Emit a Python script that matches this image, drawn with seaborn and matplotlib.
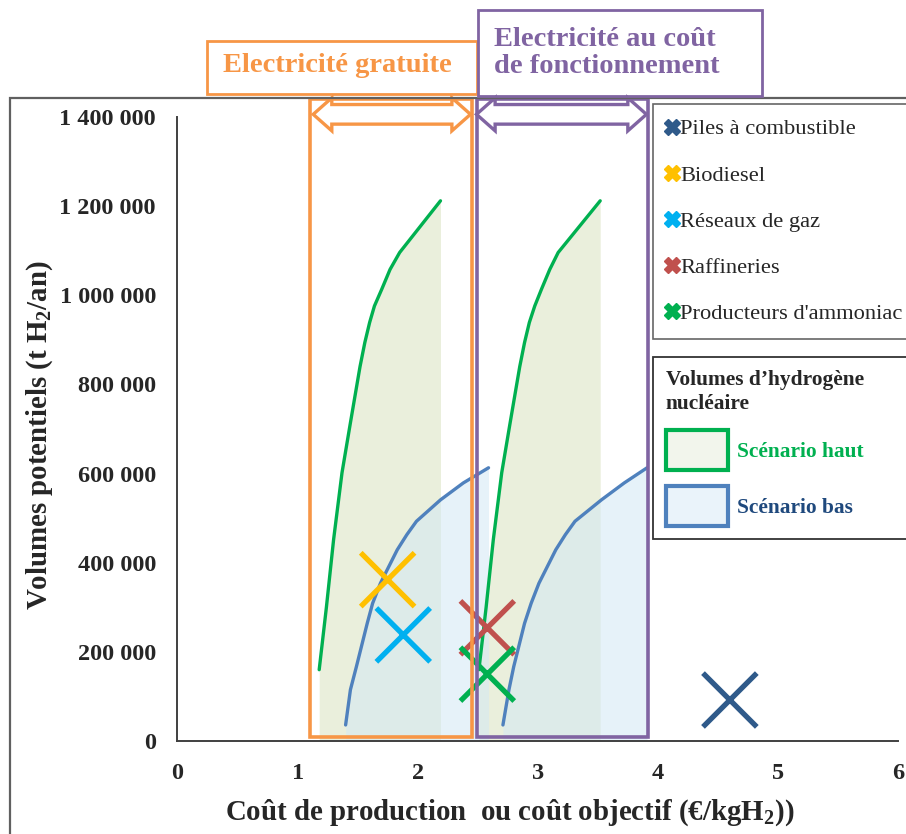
import numpy as np
import pandas as pd
import matplotlib
matplotlib.use("Agg")
import matplotlib.pyplot as plt
import matplotlib.patches as mpatches
from matplotlib.lines import Line2D
import seaborn as sns

# courbes hydrogene nucleaire (cout en EUR/kgH2, volume en t H2/an)
cout_haut_1 = [1.18, 1.24, 1.30, 1.37, 1.44, 1.52, 1.56, 1.60, 1.64, 1.70, 1.77, 1.85, 2.19]
vol_haut_1 = [160000, 300000, 452000, 602000, 714000, 840000, 894000, 939000, 976000,
              1013000, 1058000, 1096000, 1212000]
cout_haut_2 = [2.51, 2.57, 2.63, 2.70, 2.77, 2.85, 2.89, 2.93, 2.975, 3.03, 3.10, 3.17, 3.52]
vol_haut_2 = [160000, 300000, 452000, 602000, 714000, 840000, 894000, 939000, 976000,
              1013000, 1058000, 1096000, 1212000]

cout_bas_1 = [1.40, 1.44, 1.49, 1.58, 1.625, 1.69, 1.83, 1.91, 1.99, 2.19, 2.38, 2.59]
vol_bas_1 = [36000, 115000, 167000, 264000, 309000, 354000, 429000, 463000, 493000,
             541000, 579000, 613000]
cout_bas_2 = [2.71, 2.76, 2.80, 2.89, 2.945, 3.01, 3.15, 3.23, 3.31, 3.53, 3.72, 3.91]
vol_bas_2 = [36000, 115000, 167000, 264000, 309000, 354000, 429000, 463000, 493000,
             541000, 579000, 613000]

# usages (croix)
usages = ["Piles à combustible", "Biodiesel", "Réseaux de gaz", "Raffineries", "Producteurs d'ammoniac"]
cout_usage = [4.60, 1.75, 1.88, 2.58, 2.58]
vol_usage = [92000, 362000, 238000, 254000, 150000]
couleurs_usage = ["#2F5A8A", "#FFC000", "#00B0F0", "#C0504D", "#00B050"]

yticks = [0, 200000, 400000, 600000, 800000, 1000000, 1200000, 1400000]
xticks = [0, 1, 2, 3, 4, 5, 6]

vert = "#00B050"
bleu = "#4F81BD"
orange = "#F79646"
violet = "#8064A2"

sns.set_theme(style="white")
plt.rcParams['font.family'] = ['Liberation Serif', 'DejaVu Serif']
plt.rcParams['mathtext.fontset'] = 'custom'
plt.rcParams['mathtext.rm'] = 'Liberation Serif'
plt.rcParams['mathtext.bf'] = 'Liberation Serif:bold'

fig = plt.figure(figsize=(9.06, 8.34), dpi=100)
ax = fig.add_axes([0.1959, 0.1115, 0.7953, 0.7482])

# cadre exterieur du graphique
fig.patches.append(mpatches.Rectangle((10 / 906, -0.1), 1.2, 0.1 + (834 - 98) / 834,
                                      transform=fig.transFigure, fill=False,
                                      ec="#606060", lw=1.6))

# zones remplies
for cx, vy in [(cout_haut_1, vol_haut_1), (cout_haut_2, vol_haut_2)]:
    ax.fill_between(cx, vy, 0, color="#EAEFDC", lw=0, zorder=1)
for cx, vy in [(cout_bas_1, vol_bas_1), (cout_bas_2, vol_bas_2)]:
    ax.fill_between(cx, vy, 0, color="#D3E9F5", alpha=0.55, lw=0, zorder=2)

for cx, vy in [(cout_haut_1, vol_haut_1), (cout_haut_2, vol_haut_2)]:
    sns.lineplot(x=cx, y=vy, ax=ax, color=vert, lw=2.4, sort=False, zorder=3)
for cx, vy in [(cout_bas_1, vol_bas_1), (cout_bas_2, vol_bas_2)]:
    sns.lineplot(x=cx, y=vy, ax=ax, color=bleu, lw=2.4, sort=False, zorder=3)

df_usage = pd.DataFrame({"cout": cout_usage, "vol": vol_usage, "usage": usages})
sns.scatterplot(data=df_usage, x="cout", y="vol", hue="usage", palette=couleurs_usage,
                marker="x", s=1500, linewidth=3.8, legend=False, ax=ax, zorder=4)

# cadres des deux zones
ax.add_patch(mpatches.Rectangle((1.10, 8000), 1.35, 1432000, fill=False, ec=orange,
                                lw=2.6, clip_on=False, zorder=6))
ax.add_patch(mpatches.Rectangle((2.49, 8000), 1.43, 1432000, fill=False, ec=violet,
                                lw=2.6, clip_on=False, zorder=6))


def double_fleche(x0, x1, color):
    yc, hh, sh, hl = 1406000, 37000, 22000, 0.155
    pts = [(x0, yc), (x0 + hl, yc + hh), (x0 + hl, yc + sh), (x1 - hl, yc + sh),
           (x1 - hl, yc + hh), (x1, yc), (x1 - hl, yc - hh), (x1 - hl, yc - sh),
           (x0 + hl, yc - sh), (x0 + hl, yc - hh)]
    ax.add_patch(mpatches.Polygon(pts, closed=True, fill=False, ec=color, lw=2.4,
                                  joinstyle="miter", clip_on=False, zorder=6))


double_fleche(1.13, 2.44, orange)
double_fleche(2.49, 3.905, violet)

# axes
ax.set_xlim(0, 6)
ax.set_ylim(0, 1400000)
ax.set_xticks(xticks)
ax.set_xticklabels([str(v) for v in xticks])
ax.set_yticks(yticks)
ax.set_yticklabels([f"{v:,}".replace(",", " ") for v in yticks])
for lab in ax.get_xticklabels() + ax.get_yticklabels():
    lab.set_fontweight("bold")
    lab.set_fontsize(17.5)
ax.tick_params(axis="y", direction="out", length=9, width=1.3, color="#404040", pad=6.5)
ax.tick_params(axis="x", direction="inout", length=10, width=1.3, color="#404040", pad=11)
sns.despine(ax=ax)
for s in ["left", "bottom"]:
    ax.spines[s].set_color("#404040")
    ax.spines[s].set_linewidth(1.4)
ax.set_facecolor("white")

ax.set_ylabel("Volumes potentiels (t H$_\\mathbf{2}$/an)", fontsize=20.8, fontweight="bold")
ax.yaxis.set_label_coords(-0.170, 0.49)
ax.set_xlabel("Coût de production  ou coût objectif (€/kgH$_\\mathbf{2}$))", fontsize=20.8,
              fontweight="bold")
ax.xaxis.set_label_coords(0.4615, -0.091)

# encadres du haut
fig.patches.append(mpatches.Rectangle((207 / 906, (834 - 94) / 834), 270 / 906, 53 / 834,
                                      transform=fig.transFigure, fill=False, ec=orange, lw=2))
fig.text(337 / 906, (834 - 66) / 834, "Electricité gratuite", color=orange, fontsize=20.5,
         fontweight="bold", ha="center", va="center")
fig.patches.append(mpatches.Rectangle((478 / 906, (834 - 96) / 834), 284 / 906, 86 / 834,
                                      transform=fig.transFigure, fill=False, ec=violet, lw=2))
fig.text(494 / 906, (834 - 53) / 834, "Electricité au coût\nde fonctionnement", color=violet,
         fontsize=20.5, fontweight="bold", ha="left", va="center", linespacing=1.1)

# legende des usages
poignees = [Line2D([], [], marker="X", ms=11, color=c, ls="none") for c in couleurs_usage]
leg1 = fig.legend(poignees, usages, loc="upper left", bbox_to_anchor=(653 / 906, (834 - 104) / 834),
                  prop={"family": "Liberation Serif", "size": 16.2}, frameon=True, fancybox=False,
                  edgecolor="#404040", borderaxespad=0, borderpad=0.65, labelspacing=1.13,
                  handlelength=0.35, handletextpad=0.2)
leg1.get_frame().set_linewidth(1.2)

# legende des scenarios
scenarios = ["Scénario haut", "Scénario bas"]
couleurs_scen = [vert, "#1F497D"]
patchs = [mpatches.Patch(facecolor="#F2F5EC", edgecolor=vert, lw=3),
          mpatches.Patch(facecolor="#EAF3FA", edgecolor=bleu, lw=3)]
leg2 = fig.legend(patchs, scenarios, loc="upper left",
                  bbox_to_anchor=(653 / 906, (834 - 357) / 834, 280 / 906, 0.0), mode="expand",
                  title="Volumes d’hydrogène\nnucléaire",
                  prop={"family": "Liberation Serif", "size": 15.4, "weight": "bold"},
                  title_fontproperties={"family": "Liberation Serif", "size": 15.4, "weight": "bold"},
                  alignment="left", frameon=True, fancybox=False, edgecolor="black",
                  borderaxespad=0, borderpad=0.6, labelspacing=0.75, handlelength=2.9,
                  handleheight=2.5, handletextpad=0.45)
leg2.get_title().set_linespacing(1.3)
leg2.get_frame().set_linewidth(1.3)
for t, c in zip(leg2.get_texts(), couleurs_scen):
    t.set_color(c)

fig.savefig("out.png", dpi=100)
